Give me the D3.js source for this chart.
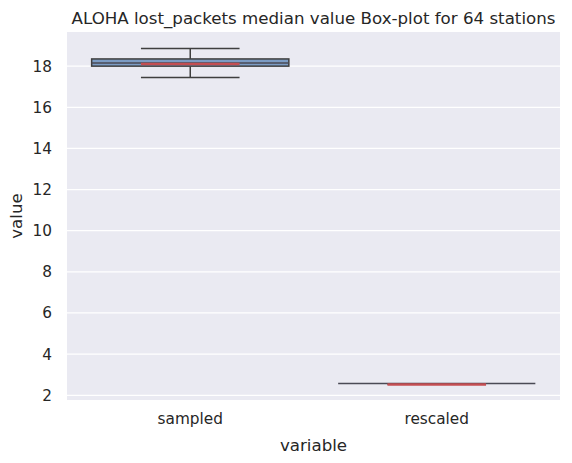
<!DOCTYPE html>
<html>
<head>
<meta charset="utf-8">
<script src="https://cdn.jsdelivr.net/npm/d3@7"></script>
<style>
  body { margin: 0; background: #fff; }
  text { font-family: "DejaVu Sans", sans-serif; fill: #262626; }
</style>
</head>
<body>
<div class="canvas"></div>
<script>
// data
const categories = ['sampled', 'rescaled'];
const whiskerLow = [17.45, 2.56];
const q1 = [18.0, 2.56];
const medians = [18.13, 2.55];
const q3 = [18.35, 2.56];
const whiskerHigh = [18.86, 2.56];
const yTicks = [2, 4, 6, 8, 10, 12, 14, 16, 18];

const margin = {top: 32, right: 12, bottom: 63, left: 67};
const width = 572, height = 463;
const graphWidth = width - margin.left - margin.right;
const graphHeight = height - margin.top - margin.bottom;

const svg = d3.select('.canvas')
    .append('svg')
    .attr('width', width)
    .attr('height', height);

const graph = svg.append('g')
    .attr('transform', `translate(${margin.left}, ${margin.top})`);

// scales
const x = d3.scaleBand().domain(categories).range([0, graphWidth]).paddingInner(0.2).paddingOuter(0.1);
const y = d3.scaleLinear().domain([1.77, 19.66]).range([graphHeight, 0]);

graph.append('rect')
    .attr('width', graphWidth)
    .attr('height', graphHeight)
    .attr('fill', '#eaeaf2');

// grid
graph.selectAll('.grid')
    .data(yTicks)
    .enter().append('line')
    .attr('x1', 0).attr('x2', graphWidth)
    .attr('y1', d => y(d)).attr('y2', d => y(d))
    .attr('stroke', '#fff').attr('stroke-width', 1.25);

// axes
const yAxis = d3.axisLeft(y).tickValues(yTicks).tickSize(0).tickPadding(15);
const xAxis = d3.axisBottom(x).tickSize(0).tickPadding(13);

const yAxisGroup = graph.append('g').call(yAxis);
const xAxisGroup = graph.append('g').attr('transform', `translate(0, ${graphHeight})`).call(xAxis);
[yAxisGroup, xAxisGroup].forEach(g => {
    g.select('.domain').remove();
    g.selectAll('text').attr('font-size', '15.3px').attr('fill', '#262626')
        .style('font-family', '"DejaVu Sans", sans-serif');
});

// boxes
const boxes = graph.selectAll('.box')
    .data(categories)
    .enter().append('g');

const bw = x.bandwidth();

boxes.each(function(c, i) {
    const g = d3.select(this);
    const cx = x(c) + bw / 2;
    // whiskers
    g.append('line')
        .attr('x1', cx).attr('x2', cx)
        .attr('y1', y(q3[i])).attr('y2', y(whiskerHigh[i]))
        .attr('stroke', '#3f3f3f').attr('stroke-width', 1.5);
    g.append('line')
        .attr('x1', cx).attr('x2', cx)
        .attr('y1', y(q1[i])).attr('y2', y(whiskerLow[i]))
        .attr('stroke', '#3f3f3f').attr('stroke-width', 1.5);
    [whiskerLow[i], whiskerHigh[i]].forEach(v => {
        g.append('line')
            .attr('x1', cx - bw / 4).attr('x2', cx + bw / 4)
            .attr('y1', y(v)).attr('y2', y(v))
            .attr('stroke', '#3f3f3f').attr('stroke-width', 1.5);
    });
    // box
    g.append('rect')
        .attr('x', x(c)).attr('width', bw)
        .attr('y', y(q3[i])).attr('height', Math.max(0, y(q1[i]) - y(q3[i])))
        .attr('fill', '#7c9cc4')
        .attr('stroke', '#3f3f3f').attr('stroke-width', 1.5);
    // inner dark line
    g.append('line')
        .attr('x1', x(c)).attr('x2', x(c) + bw)
        .attr('y1', y(medians[i]) - 0.5).attr('y2', y(medians[i]) - 0.5)
        .attr('stroke', '#4a4a55').attr('stroke-width', 1.5);
    // median
    g.append('line')
        .attr('x1', cx - bw / 4).attr('x2', cx + bw / 4)
        .attr('y1', y(medians[i]) + 0.5).attr('y2', y(medians[i]) + 0.5)
        .attr('stroke', '#c44e52').attr('stroke-width', 2.5);
});

// labels
svg.append('text')
    .attr('x', margin.left + graphWidth / 2).attr('y', 24)
    .attr('text-anchor', 'middle').attr('font-size', '16.67px')
    .text('ALOHA lost_packets median value Box-plot for 64 stations');

svg.append('text')
    .attr('x', margin.left + graphWidth / 2).attr('y', 451)
    .attr('text-anchor', 'middle').attr('font-size', '16.67px')
    .text('variable');

svg.append('text')
    .attr('transform', `translate(22, ${margin.top + graphHeight / 2}) rotate(-90)`)
    .attr('text-anchor', 'middle').attr('font-size', '16.67px')
    .text('value');
</script>
</body>
</html>
